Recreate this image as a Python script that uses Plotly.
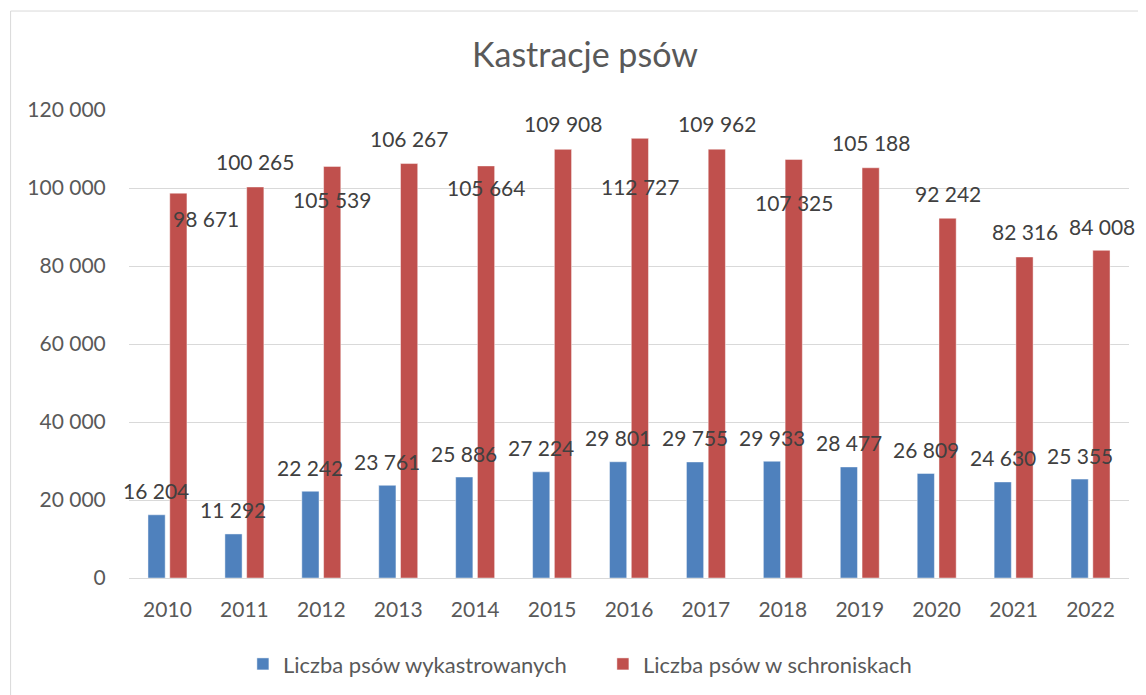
import plotly.graph_objects as go

years = ["2010", "2011", "2012", "2013", "2014", "2015", "2016",
         "2017", "2018", "2019", "2020", "2021", "2022"]
neutered = [16204, 11292, 22242, 23761, 25886, 27224, 29801,
            29755, 29933, 28477, 26809, 24630, 25355]
sheltered = [98671, 100265, 105539, 106267, 105664, 109908, 112727,
             109962, 107325, 105188, 92242, 82316, 84008]
series_names = ["Liczba psów wykastrowanych", "Liczba psów w schroniskach"]
title_text = "Kastracje psów"
y_ticks = [0, 20000, 40000, 60000, 80000, 100000, 120000]

# label placement styles (pixel offsets of label centres from bar tops)
blue_label_dy = [24] * len(years)
red_label_dy = [-25, 25, -33, 25, -22, 26, -48, 26, -43, 25, 25, 25, 24]
red_label_dx = [28, 0, 0, 0, 0, 0, 0, 0, 0, 0, 0, 0, 0]

BLUE = "#4F81BD"
RED = "#C0504D"
FONT = "Lato"


def fmt(v):
    return f"{v:,}".replace(",", " ")


pos = list(range(len(years)))

fig = go.Figure()
fig.add_trace(go.Bar(x=pos, y=neutered, name=series_names[0],
                     marker=dict(color=BLUE, line=dict(color="rgba(255,255,255,0.45)", width=1))))
fig.add_trace(go.Bar(x=pos, y=sheltered, name=series_names[1],
                     marker=dict(color=RED, line=dict(color="rgba(255,255,255,0.45)", width=1))))

annotations = []
for i in pos:
    annotations.append(dict(x=i, y=neutered[i], xref="x", yref="y", text=fmt(neutered[i]),
                            showarrow=False, xshift=-11, yshift=blue_label_dy[i],
                            yanchor="middle", xanchor="center",
                            font=dict(family=FONT, size=21, color="#404040")))
    annotations.append(dict(x=i, y=sheltered[i], xref="x", yref="y", text=fmt(sheltered[i]),
                            showarrow=False, xshift=11 + red_label_dx[i], yshift=red_label_dy[i],
                            yanchor="middle", xanchor="center",
                            font=dict(family=FONT, size=21, color="#404040")))

fig.update_layout(
    width=1138, height=687,
    margin=dict(l=120.5, r=16.5, t=102, b=117, autoexpand=False),
    paper_bgcolor="white", plot_bgcolor="white",
    barmode="group", bargap=0.434, bargroupgap=0.21,
    title=dict(text=title_text, x=0.507, xanchor="center", y=1 - 47 / 687, yanchor="middle",
               font=dict(family=FONT, size=34, color="#595959")),
    font=dict(family=FONT, size=21, color="#595959"),
    legend=dict(orientation="h", x=0.1139, xanchor="left", y=-0.184, yanchor="middle",
                entrywidth=315, entrywidthmode="pixels",
                font=dict(family=FONT, size=22, color="#595959"),
                bgcolor="rgba(0,0,0,0)"),
    annotations=annotations,
    xaxis=dict(type="linear", range=[-0.5, len(years) - 0.5], autorange=False,
               tickmode="array", tickvals=pos, ticktext=years,
               showgrid=False, showline=True, linecolor="#D9D9D9", linewidth=1,
               zeroline=False,
               ticks="outside", ticklen=13, tickcolor="rgba(0,0,0,0)",
               tickfont=dict(family=FONT, size=21, color="#595959")),
    yaxis=dict(range=[0, 120000], autorange=False, tickmode="array", tickvals=y_ticks,
               ticktext=[fmt(v) for v in y_ticks],
               showgrid=True, gridcolor="#D9D9D9", gridwidth=1, zeroline=False,
               showline=False, ticks="outside", ticklen=18, tickcolor="rgba(0,0,0,0)",
               tickfont=dict(family=FONT, size=21, color="#595959")),
)
fig.add_shape(type="rect", xref="paper", yref="paper", x0=-0.1184, x1=1.05, y0=-0.4, y1=1.2115,
              line=dict(color="#D9D9D9", width=1), fillcolor="rgba(0,0,0,0)", layer="below")

fig.write_html("out.html")
